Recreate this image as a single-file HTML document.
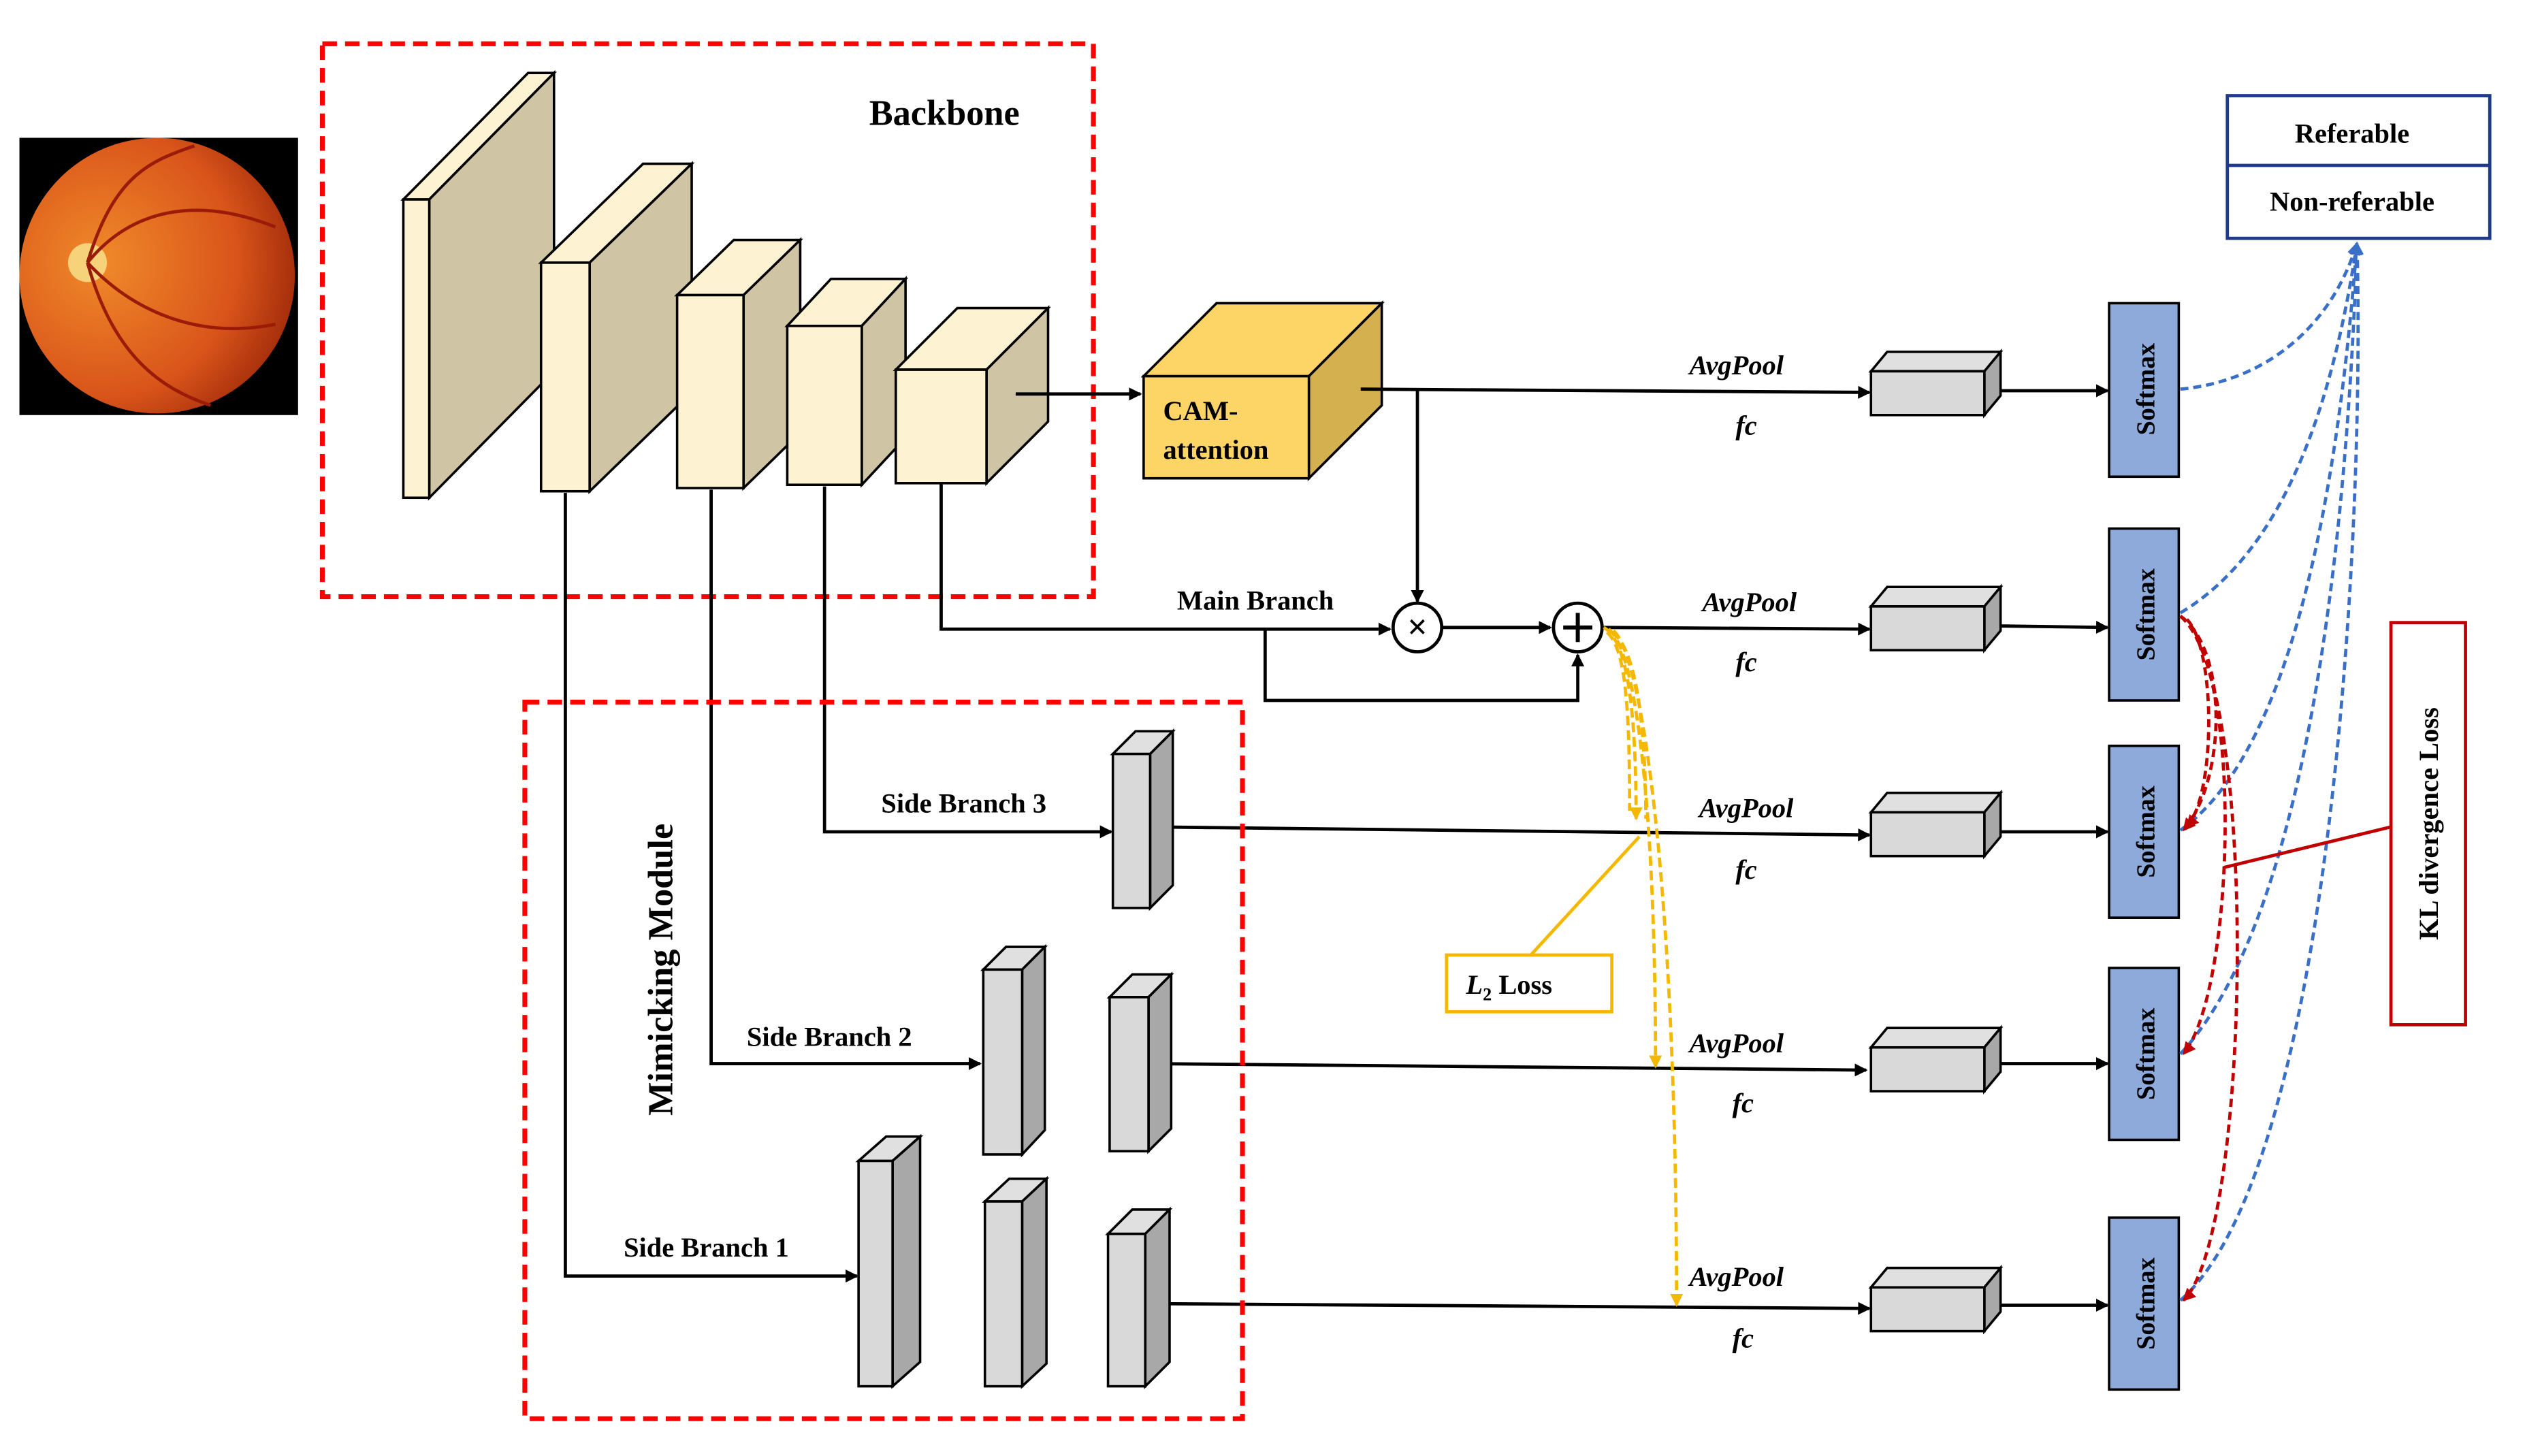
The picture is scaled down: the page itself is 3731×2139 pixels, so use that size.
<!DOCTYPE html>
<html><head><meta charset="utf-8"><style>
html,body{margin:0;padding:0;background:#fff;}
svg{display:block;}
text{font-family:"Liberation Serif",serif;font-weight:bold;fill:#000;}
</style></head><body>
<svg width="3731" height="2139" viewBox="0 0 1568 898" preserveAspectRatio="none" xmlns="http://www.w3.org/2000/svg">
<defs>
<marker id="a" markerWidth="8" markerHeight="8" refX="7" refY="4" orient="auto" markerUnits="userSpaceOnUse"><path d="M0,0 L8,4 L0,8 z" fill="#000"/></marker>
<marker id="ay" markerWidth="8" markerHeight="8" refX="7" refY="4" orient="auto" markerUnits="userSpaceOnUse"><path d="M0,0 L8,4 L0,8 z" fill="#f5b800"/></marker>
<marker id="ab" markerWidth="8" markerHeight="8" refX="7" refY="4" orient="auto" markerUnits="userSpaceOnUse"><path d="M0,0 L8,4 L0,8 z" fill="#3a6fc8"/></marker>
<marker id="ar" markerWidth="8" markerHeight="8" refX="7" refY="4" orient="auto" markerUnits="userSpaceOnUse"><path d="M0,0 L8,4 L0,8 z" fill="#c00000"/></marker>
<radialGradient id="eye" cx="0.3" cy="0.45" r="0.7"><stop offset="0" stop-color="#f08a2a"/><stop offset="0.7" stop-color="#d9541a"/><stop offset="1" stop-color="#a8300c"/></radialGradient>
</defs>

<rect x="12" y="85" width="172" height="171" fill="#000"/>
<circle cx="97" cy="170" r="85" fill="url(#eye)"/>
<circle cx="54" cy="162" r="12" fill="#f6d27a"/>
<path d="M54,162 C80,130 120,120 170,140 M54,162 C80,190 120,210 170,200 M54,162 C70,110 90,100 120,90 M54,162 C70,220 100,240 130,250" stroke="#9a1c08" stroke-width="2" fill="none"/>

<rect x="199" y="27" width="476" height="341" fill="none" stroke="#f00" stroke-width="3" stroke-dasharray="9,5"/>
<text x="583" y="77" font-size="22" text-anchor="middle">Backbone</text>

<g stroke="#000" stroke-width="1.5">
<polygon points="249,123 326,45 342,45 265,123" fill="#fdf3d3"/>
<polygon points="265,123 342,45 342,229 265,307" fill="#cfc4a4"/>
<rect x="249" y="123" width="16" height="184" fill="#fdf3d3"/>
<polygon points="334,162 397,101 427,101 364,162" fill="#fdf3d3"/>
<polygon points="364,162 427,101 427,242 364,303" fill="#cfc4a4"/>
<rect x="334" y="162" width="30" height="141" fill="#fdf3d3"/>
<polygon points="418,182 453,148 494,148 459,182" fill="#fdf3d3"/>
<polygon points="459,182 494,148 494,267 459,301" fill="#cfc4a4"/>
<rect x="418" y="182" width="41" height="119" fill="#fdf3d3"/>
<polygon points="486,201 513,172 559,172 532,201" fill="#fdf3d3"/>
<polygon points="532,201 559,172 559,270 532,299" fill="#cfc4a4"/>
<rect x="486" y="201" width="46" height="98" fill="#fdf3d3"/>
<polygon points="553,228 591,190 647,190 609,228" fill="#fdf3d3"/>
<polygon points="609,228 647,190 647,260 609,298" fill="#cfc4a4"/>
<rect x="553" y="228" width="56" height="70" fill="#fdf3d3"/>
<polygon points="706,232 751,187 853,187 808,232" fill="#fdd567"/>
<polygon points="808,232 853,187 853,250 808,295" fill="#d4b04e"/>
<rect x="706" y="232" width="102" height="63" fill="#fdd567"/>
</g>
<text x="718" y="259" font-size="17">CAM-</text>
<text x="718" y="283" font-size="17">attention</text>

<g stroke="#000" stroke-width="2" fill="none">
<line x1="627" y1="243" x2="704" y2="243" marker-end="url(#a)"/>
<line x1="840" y1="240" x2="1154" y2="242" marker-end="url(#a)"/>
<line x1="875" y1="240" x2="875" y2="371" marker-end="url(#a)"/>
<polyline points="581,298 581,388 858,388" marker-end="url(#a)"/>
<line x1="890" y1="387" x2="957" y2="387" marker-end="url(#a)"/>
<polyline points="781,388 781,432 974,432 974,404" marker-end="url(#a)"/>
<line x1="990" y1="387" x2="1154" y2="388" marker-end="url(#a)"/>
<polyline points="509,300 509,513 686,513" marker-end="url(#a)"/>
<polyline points="439,302 439,656 605,656" marker-end="url(#a)"/>
<polyline points="349,304 349,787 529,787" marker-end="url(#a)"/>
<line x1="710" y1="510" x2="1154" y2="515" marker-end="url(#a)"/>
<line x1="710" y1="656" x2="1152" y2="660" marker-end="url(#a)"/>
<line x1="708" y1="804" x2="1154" y2="807" marker-end="url(#a)"/>
<line x1="1230" y1="241" x2="1301" y2="241" marker-end="url(#a)"/>
<line x1="1230" y1="386" x2="1301" y2="387" marker-end="url(#a)"/>
<line x1="1230" y1="513" x2="1301" y2="513" marker-end="url(#a)"/>
<line x1="1230" y1="656" x2="1301" y2="656" marker-end="url(#a)"/>
<line x1="1230" y1="805" x2="1301" y2="805" marker-end="url(#a)"/>
</g>
<circle cx="875" cy="387" r="15" fill="#fff" stroke="#000" stroke-width="2"/>
<text x="875" y="394" font-size="22" text-anchor="middle" font-weight="normal">×</text>
<circle cx="974" cy="387" r="15" fill="#fff" stroke="#000" stroke-width="2"/>
<path d="M965,387 H983 M974,378 V396" stroke="#000" stroke-width="2.5"/>
<text x="775" y="376" font-size="17" text-anchor="middle">Main Branch</text>
<text x="595" y="501" font-size="17" text-anchor="middle">Side Branch 3</text>
<text x="512" y="645" font-size="17" text-anchor="middle">Side Branch 2</text>
<text x="436" y="775" font-size="17" text-anchor="middle">Side Branch 1</text>

<rect x="324" y="433" width="443" height="442" fill="none" stroke="#f00" stroke-width="3" stroke-dasharray="9,5"/>
<text transform="translate(415,598) rotate(-90)" font-size="22" text-anchor="middle">Mimicking Module</text>

<g stroke="#000" stroke-width="1.5">
<polygon points="687,465 701,451 724,451 710,465" fill="#e0e0e0"/><polygon points="710,465 724,451 724,546 710,560" fill="#a8a8a8"/><rect x="687" y="465" width="23" height="95" fill="#d9d9d9"/>
<polygon points="607,598 621,584 645,584 631,598" fill="#e0e0e0"/><polygon points="631,598 645,584 645,697 631,712" fill="#a8a8a8"/><rect x="607" y="598" width="24" height="114" fill="#d9d9d9"/>
<polygon points="685,615 699,601 723,601 709,615" fill="#e0e0e0"/><polygon points="709,615 723,601 723,696 709,710" fill="#a8a8a8"/><rect x="685" y="615" width="24" height="95" fill="#d9d9d9"/>
<polygon points="530,716 547,701 568,701 551,716" fill="#e0e0e0"/><polygon points="551,716 568,701 568,840 551,855" fill="#a8a8a8"/><rect x="530" y="716" width="21" height="139" fill="#d9d9d9"/>
<polygon points="608,741 623,727 646,727 631,741" fill="#e0e0e0"/><polygon points="631,741 646,727 646,841 631,855" fill="#a8a8a8"/><rect x="608" y="741" width="23" height="114" fill="#d9d9d9"/>
<polygon points="684,761 699,746 722,746 707,761" fill="#e0e0e0"/><polygon points="707,761 722,746 722,840 707,855" fill="#a8a8a8"/><rect x="684" y="761" width="23" height="94" fill="#d9d9d9"/>
<g id="gb">
<polygon points="1155,229 1165,217 1235,217 1225,229" fill="#e0e0e0"/><polygon points="1225,229 1235,217 1235,244 1225,256" fill="#a8a8a8"/><rect x="1155" y="229" width="70" height="27" fill="#d9d9d9"/>
</g>
<use href="#gb" y="145"/><use href="#gb" y="272"/><use href="#gb" y="417"/><use href="#gb" y="565"/>
</g>
<g font-size="17" font-style="italic">
<text x="1072" y="231" text-anchor="middle">AvgPool</text><text x="1078" y="268" text-anchor="middle">fc</text>
<text x="1080" y="377" text-anchor="middle">AvgPool</text><text x="1078" y="414" text-anchor="middle">fc</text>
<text x="1078" y="504" text-anchor="middle">AvgPool</text><text x="1078" y="542" text-anchor="middle">fc</text>
<text x="1072" y="649" text-anchor="middle">AvgPool</text><text x="1076" y="686" text-anchor="middle">fc</text>
<text x="1072" y="793" text-anchor="middle">AvgPool</text><text x="1076" y="831" text-anchor="middle">fc</text>
</g>

<g stroke="#000" stroke-width="1.5" fill="#8eaadb">
<rect x="1302" y="187" width="43" height="107"/><rect x="1302" y="326" width="43" height="106"/><rect x="1302" y="460" width="43" height="106"/><rect x="1302" y="597" width="43" height="106"/><rect x="1302" y="751" width="43" height="106"/>
</g>
<g font-size="16">
<text transform="translate(1330,240) rotate(-90)" text-anchor="middle">Softmax</text>
<text transform="translate(1330,379) rotate(-90)" text-anchor="middle">Softmax</text>
<text transform="translate(1330,513) rotate(-90)" text-anchor="middle">Softmax</text>
<text transform="translate(1330,650) rotate(-90)" text-anchor="middle">Softmax</text>
<text transform="translate(1330,804) rotate(-90)" text-anchor="middle">Softmax</text>
</g>

<rect x="1375" y="59" width="162" height="88" fill="#fff" stroke="#1f3a8a" stroke-width="2"/>
<line x1="1375" y1="102" x2="1537" y2="102" stroke="#1f3a8a" stroke-width="2"/>
<text x="1452" y="88" font-size="17" text-anchor="middle">Referable</text>
<text x="1452" y="130" font-size="17" text-anchor="middle">Non-referable</text>

<g stroke="#3a6fc8" stroke-width="2" fill="none" stroke-dasharray="5,3" marker-end="url(#ab)">
<path d="M1346,240 C1400,235 1440,200 1455,150"/>
<path d="M1346,378 C1410,340 1440,250 1455,150"/>
<path d="M1346,512 C1420,460 1445,280 1455,150"/>
<path d="M1346,650 C1430,560 1450,300 1455,150"/>
<path d="M1346,802 C1440,720 1460,320 1455,150"/>
</g>
<g stroke="#c00000" stroke-width="2" fill="none" stroke-dasharray="5,3" marker-end="url(#ar)">
<path d="M1346,380 C1375,400 1375,480 1348,512"/>
<path d="M1346,380 C1385,410 1380,610 1348,650"/>
<path d="M1346,380 C1395,420 1390,760 1348,802"/>
<path d="M1350,382 C1368,400 1368,490 1350,510"/>
</g>

<rect x="1476" y="384" width="46" height="248" fill="#fff" stroke="#c00000" stroke-width="2"/>
<text transform="translate(1505,508) rotate(-90)" font-size="17" text-anchor="middle">KL divergence Loss</text>
<line x1="1476" y1="510" x2="1373" y2="535" stroke="#c00000" stroke-width="2"/>

<g stroke="#f5b800" stroke-width="2" fill="none" stroke-dasharray="6,3">
<path d="M990,387 C1005,395 1010,440 1010,505" marker-end="url(#ay)"/>
<path d="M993,388 C1010,400 1022,500 1022,658" marker-end="url(#ay)"/>
<path d="M996,389 C1015,405 1035,560 1035,805" marker-end="url(#ay)"/>
<path d="M992,390 C1004,400 1006,440 1006,500"/>
<path d="M995,390 C1012,400 1016,460 1016,505"/>
</g>
<line x1="945" y1="589" x2="1012" y2="516" stroke="#f5b800" stroke-width="2"/>
<rect x="893" y="589" width="102" height="35" fill="#fff" stroke="#f5b800" stroke-width="2"/>
<text x="905" y="613" font-size="17" font-weight="normal"><tspan font-style="italic">L</tspan><tspan font-size="11" dy="4">2</tspan><tspan dy="-4"> Loss</tspan></text>
</svg>
</body></html>
